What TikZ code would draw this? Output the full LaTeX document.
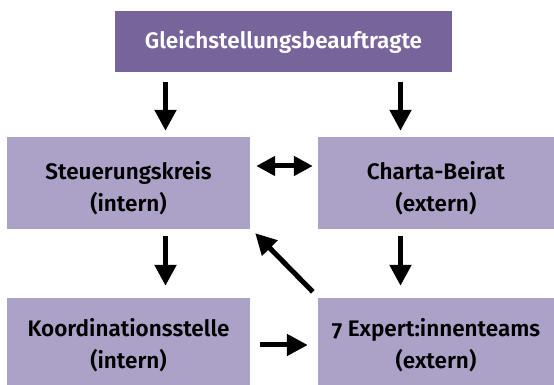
\documentclass[tikz,border=0pt]{standalone}
\usepackage{fontspec}
\setmainfont{Fira Sans}[BoldFont={Fira Sans SemiBold}, Numbers=OldStyle]
\usepackage{tikz}
\usetikzlibrary{arrows.meta}
\definecolor{dunkel}{HTML}{76649A}
\definecolor{hell}{HTML}{ACA2C8}

\begin{document}
\begin{tikzpicture}[x=1pt, y=1pt,
    kopf/.style={fill=dunkel, text=white, minimum width=337pt, minimum height=61pt, font=\fontsize{22.5}{32}\selectfont\bfseries},
    kasten/.style={fill=hell, text=black, align=center, inner ysep=0pt, font=\fontsize{22.5}{32}\selectfont\bfseries},
    oben/.style={text height=75pt, text depth=17pt},
    unten/.style={text height=71pt, text depth=16pt},
    pfeil/.style={line width=5pt, -{Triangle[length=21pt, width=21pt]}},
    doppelpfeil/.style={line width=5pt, {Triangle[length=19pt, width=19pt]}-{Triangle[length=19pt, width=19pt]}}]
    \useasboundingbox (0,0) rectangle (554,385);

    % draw boxes
    \node[kopf] (gb) at (283.5,343.5) {Gleichstellungsbeauftragte};
    \node[kasten, oben, minimum width=243pt] (sk) at (128.5,202) {Steuerungskreis\\(intern)};
    \node[kasten, oben, minimum width=236pt] (cb) at (436,202) {Charta-Beirat\\(extern)};
    \node[kasten, unten, minimum width=243pt] (ks) at (128.5,43.5) {Koordinationsstelle\\(intern)};
    \node[kasten, unten, minimum width=236pt] (et) at (436,43.5) {7 Expert:innenteams\\(extern)};

    % draw arrows
    \draw[pfeil, shorten <=10pt, shorten >=6pt] ([xshift=-118pt]gb.south) -- ([xshift=37pt]sk.north);
    \draw[pfeil, shorten <=10pt, shorten >=6pt] ([xshift=117pt]gb.south) -- ([xshift=-35.5pt]cb.north);
    \draw[pfeil, shorten <=7pt, shorten >=12pt] ([xshift=37pt]sk.south) -- ([xshift=37pt]ks.north);
    \draw[pfeil, shorten <=7pt, shorten >=12pt] ([xshift=-35.5pt]cb.south) -- ([xshift=-35.5pt]et.north);
    \draw[doppelpfeil, shorten <=6pt, shorten >=5pt] ([yshift=17pt]sk.east) -- ([yshift=17pt]cb.west);
    \draw[pfeil] ([shift={(-5pt,6pt)}]et.north west) -- ([shift={(5pt,-4pt)}]sk.south east);
    \draw[pfeil, shorten <=10pt, shorten >=10pt] ([yshift=-3.5pt]ks.east) -- ([yshift=-3.5pt]et.west);
\end{tikzpicture}
\end{document}
